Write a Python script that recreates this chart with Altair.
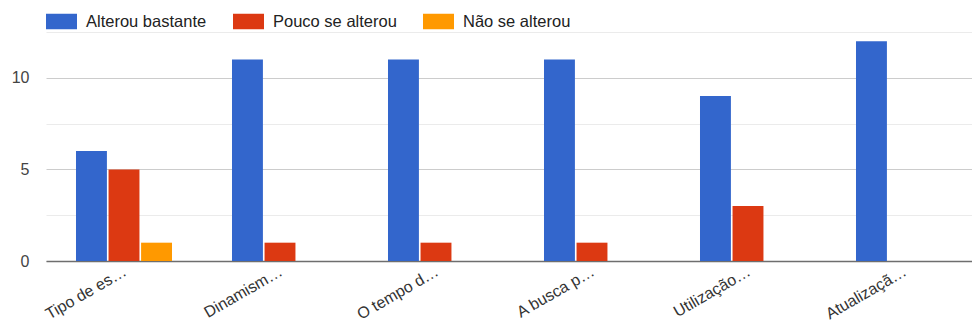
import altair as alt
import pandas as pd

# Survey answers per question (labels truncated as displayed)
questions = ["Tipo de es…", "Dinamism…", "O tempo d…", "A busca p…", "Utilização…", "Atualizaçã…"]
series = ["Alterou bastante", "Pouco se alterou", "Não se alterou"]
alterou_bastante = [6, 11, 11, 11, 9, 12]
pouco_se_alterou = [5, 1, 1, 1, 3, 0]
nao_se_alterou = [1, 0, 0, 0, 0, 0]
colors = ["#3366CC", "#DC3912", "#FF9900"]
y_ticks = [0, 2.5, 5, 7.5, 10, 12.5]

rows = []
for name, vals in zip(series, [alterou_bastante, pouco_se_alterou, nao_se_alterou]):
    for q, v in zip(questions, vals):
        rows.append({"pergunta": q, "resposta": name, "valor": v})
df = pd.DataFrame(rows)

FONT = "Liberation Sans"

bars = alt.Chart(df).transform_filter("datum.valor > 0").mark_bar().encode(
    x=alt.X(
        "pergunta:N",
        sort=questions,
        title=None,
        scale=alt.Scale(domain=questions, range=[0, 936], paddingInner=0.3846, paddingOuter=0.1923),
        axis=alt.Axis(
            labelAngle=330,
            labelAlign="right",
            labelBaseline="top",
            labelPadding=2,
            labelOffset=-3,
            ticks=False,
            domainColor="#6e6e6e",
            domainWidth=1.5,
            labelFont=FONT,
            labelFontSize=16,
            labelColor="#333333",
            labelLimit=400,
            grid=False,
        ),
    ),
    xOffset=alt.XOffset("resposta:N", sort=series, scale=alt.Scale(domain=series, paddingInner=0.05)),
    y=alt.Y(
        "valor:Q",
        title=None,
        scale=alt.Scale(domain=[0, 12.5], nice=False),
        axis=alt.Axis(
            values=y_ticks,
            labelExpr="datum.value % 5 === 0 ? datum.label : ''",
            ticks=False,
            domain=False,
            labelPadding=17,
            labelFont=FONT,
            labelFontSize=16,
            labelColor="#444444",
            gridColor={"condition": {"test": "datum.value % 5 === 0", "value": "#cccccc"}, "value": "#ebebeb"},
            gridWidth=1,
        ),
    ),
    color=alt.Color(
        "resposta:N",
        sort=series,
        scale=alt.Scale(domain=series, range=colors),
        legend=alt.Legend(
            title=None,
            orient="none",
            direction="horizontal",
            legendX=0,
            legendY=-26,
            symbolType="M-1,-0.5H1V0.5H-1Z",
            symbolSize=961,
            symbolStrokeWidth=0,
            symbolOpacity=1,
            labelOffset=9,
            columnPadding=26,
            labelFont=FONT,
            labelFontSize=16.5,
            labelColor="#222222",
        ),
    ),
)

chart = bars.properties(
    width=926,
    height=229,
    autosize=alt.AutoSizeParams(type="none"),
    padding={"left": 46, "top": 32, "right": 0, "bottom": 65},
    background="white",
).configure_view(stroke=None)

chart.save("out.html", embed_options={"renderer": "svg", "actions": False})
